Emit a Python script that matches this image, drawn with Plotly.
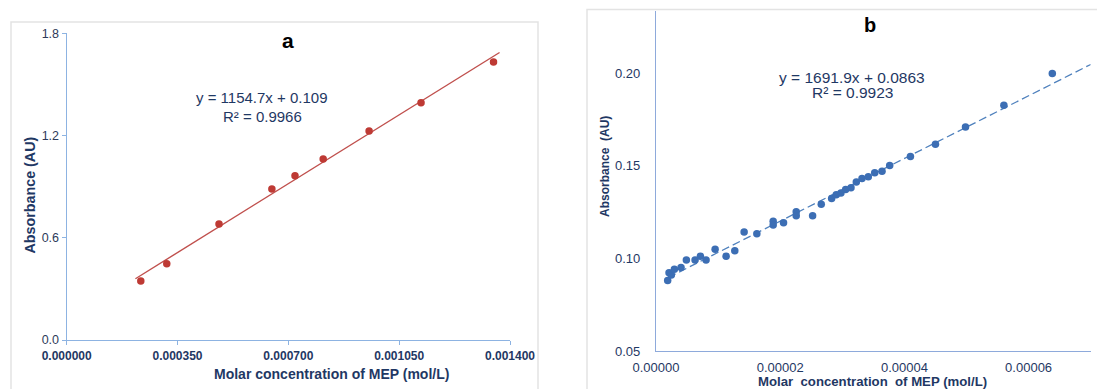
import plotly.graph_objects as go

W, H = 1097, 389

# ---------------- data ----------------
# panel a
conc_a = [0.000234, 0.000316, 0.000481, 0.000648, 0.000721, 0.000810, 0.000955, 0.001119, 0.001348]
abs_a = [0.346, 0.448, 0.681, 0.886, 0.964, 1.062, 1.227, 1.393, 1.632]
fit_a_slope, fit_a_icpt = 1154.7, 0.109
fit_a_x = [0.000217, 0.001367]

# panel b
conc_b = [1.88e-6, 2.10e-6, 2.47e-6, 2.96e-6, 4.03e-6, 4.89e-6, 6.29e-6, 7.15e-6, 8.06e-6,
          9.52e-6, 1.129e-5, 1.269e-5, 1.419e-5, 1.624e-5, 1.887e-5, 1.887e-5, 2.054e-5,
          2.258e-5, 2.258e-5, 2.522e-5, 2.661e-5, 2.828e-5, 2.903e-5, 2.978e-5, 3.054e-5,
          3.140e-5, 3.226e-5, 3.317e-5, 3.419e-5, 3.522e-5, 3.640e-5, 3.763e-5, 4.097e-5,
          4.500e-5, 4.984e-5, 5.602e-5, 6.382e-5]
abs_b = [0.0881, 0.0923, 0.0910, 0.0941, 0.0951, 0.0991, 0.0991, 0.1011, 0.0991,
         0.1050, 0.1011, 0.1041, 0.1142, 0.1133, 0.1201, 0.1180, 0.1192,
         0.1252, 0.1230, 0.1230, 0.1293, 0.1324, 0.1344, 0.1353, 0.1372,
         0.1381, 0.1412, 0.1432, 0.1441, 0.1462, 0.1471, 0.1502, 0.1550,
         0.1617, 0.1709, 0.1827, 0.1998]
fit_b_slope, fit_b_icpt = 1691.9, 0.0863
fit_b_x = [2.0e-6, 7.0e-5]

# ticks
a_xticks = [0, 0.00035, 0.0007, 0.00105, 0.0014]
a_xtext = ["0.000000", "0.000350", "0.000700", "0.001050", "0.001400"]
a_yticks = [0.0, 0.6, 1.2, 1.8]
a_ytext = ["0.0", "0.6", "1.2", "1.8"]
b_xticks = [0, 0.00002, 0.00004, 0.00006]
b_xtext = ["0.00000", "0.00002", "0.00004", "0.00006"]
b_yticks = [0.05, 0.10, 0.15, 0.20]
b_ytext = ["0.05", "0.10", "0.15", "0.20"]

eq_a = ["y = 1154.7x + 0.109", "R² = 0.9966"]
eq_b = ["y = 1691.9x + 0.0863", "R² = 0.9923"]

# ---------------- helpers ----------------
def px(x):
    return x / W

def py(y):
    return 1 - y / H

FONT = "Liberation Sans, Arial, sans-serif"
NAVY = "#1F3864"
AXIS_A = "#8DB3E2"
AXIS_B = "#8EAADB"

fig = go.Figure()

fig.add_trace(go.Scatter(
    x=fit_a_x, y=[fit_a_slope * v + fit_a_icpt for v in fit_a_x],
    mode="lines", line=dict(color="#C0504D", width=1.4),
    xaxis="x", yaxis="y", showlegend=False, hoverinfo="skip"))
fig.add_trace(go.Scatter(
    x=conc_a, y=abs_a, mode="markers",
    marker=dict(color="#BE3A34", size=7.5, line=dict(width=0)),
    xaxis="x", yaxis="y", showlegend=False))

fig.add_trace(go.Scatter(
    x=fit_b_x, y=[fit_b_slope * v + fit_b_icpt for v in fit_b_x],
    mode="lines", line=dict(color="#4F81BD", width=1.3, dash="8px,4px"),
    xaxis="x2", yaxis="y2", showlegend=False, hoverinfo="skip"))
fig.add_trace(go.Scatter(
    x=conc_b, y=abs_b, mode="markers",
    marker=dict(color="#3C6EB4", size=7.5, line=dict(width=0)),
    xaxis="x2", yaxis="y2", showlegend=False))

fig.update_layout(
    width=W, height=H,
    margin=dict(l=0, r=0, t=0, b=0, autoexpand=False),
    paper_bgcolor="white", plot_bgcolor="white",
    font=dict(family=FONT, color=NAVY),
    showlegend=False,
    xaxis=dict(domain=[px(66.7), px(510)], range=[0, 0.0014],
               tickvals=a_xticks, ticktext=a_xtext,
               tickfont=dict(size=12, color=NAVY, family="Liberation Sans, Arial", weight="bold"),
               showgrid=False, zeroline=False, showline=True, linecolor=AXIS_A, linewidth=1.3,
               ticks="outside", ticklen=4, tickcolor=AXIS_A, tickwidth=1.3,
               anchor="y", fixedrange=True, automargin=False),
    yaxis=dict(domain=[py(340), py(33.3)], range=[0, 1.8],
               tickvals=a_yticks, ticktext=a_ytext,
               tickfont=dict(size=12.5, color="#2E3B5A"),
               showgrid=False, zeroline=False, showline=True, linecolor=AXIS_A, linewidth=1.3,
               ticks="outside", ticklen=4, tickcolor=AXIS_A, tickwidth=1.3,
               anchor="x", fixedrange=True, automargin=False),
    xaxis2=dict(domain=[px(656), px(1090.7)], range=[0, 0.00007],
                tickvals=b_xticks, ticktext=b_xtext,
                tickfont=dict(size=13, color=NAVY),
                showgrid=False, zeroline=False, showline=True, linecolor=AXIS_B, linewidth=1.3,
                ticks="", ticklabelstandoff=4, anchor="y2", fixedrange=True, automargin=False),
    yaxis2=dict(domain=[py(351), py(11)], range=[0.05, 0.2336],
                tickvals=b_yticks, ticktext=b_ytext,
                tickfont=dict(size=13, color=NAVY),
                showgrid=False, zeroline=False, showline=True, linecolor=AXIS_B, linewidth=1.3,
                ticks="", ticklabelstandoff=12, anchor="x2", fixedrange=True, automargin=False),
)

shapes = [
    dict(type="rect", xref="paper", yref="paper",
         x0=px(11), x1=px(538), y0=py(400), y1=py(22),
         line=dict(color="#E3E3E3", width=1.5), fillcolor="rgba(0,0,0,0)", layer="below"),
    dict(type="rect", xref="paper", yref="paper",
         x0=px(587), x1=px(1110), y0=py(400), y1=py(9.5),
         line=dict(color="#E3E3E3", width=1.5), fillcolor="rgba(0,0,0,0)", layer="below"),
]
fig.update_layout(shapes=shapes)

def ann(text, x, y, size, color=NAVY, bold=False, angle=0):
    return dict(text=text, x=px(x), y=py(y), xref="paper", yref="paper",
                xanchor="center", yanchor="middle", showarrow=False, textangle=angle,
                font=dict(family=FONT, size=size, color=color, weight="bold" if bold else "normal"))

anns = [
    ann("a", 288, 40, 21, color="#000000", bold=True),
    ann("b", 870, 25, 20, color="#000000", bold=True),
    ann(eq_a[0], 262, 97, 15, color="#1F3864"),
    ann(eq_a[1], 262, 116, 15, color="#1F3864"),
    ann(eq_b[0], 852, 77.5, 15.5, color="#1F3864"),
    ann(eq_b[1], 852, 92.7, 15.5, color="#1F3864"),
    ann("Molar concentration of MEP (mol/L)", 331, 374, 14, bold=True),
    ann("Molar\u00a0 concentration\u00a0 of MEP (mol/L)", 872.5, 381, 13.2, bold=True),
    ann("Absorbance (AU)", 29, 195.5, 14.3, bold=True, angle=-90),
    ann("Absorbance\u00a0 (AU)", 605.5, 166.5, 12, bold=True, angle=-90),
]
fig.update_layout(annotations=anns)

fig.write_html("out.html")
